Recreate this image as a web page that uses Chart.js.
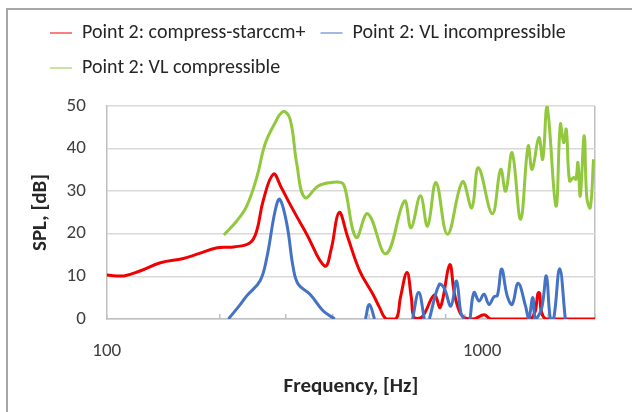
<!DOCTYPE html>
<html>
<head>
<meta charset="utf-8">
<script src="https://cdn.jsdelivr.net/npm/chart.js@4.4.0/dist/chart.umd.min.js"></script>
<style>
    html, body { margin: 0; padding: 0; background: #fff; }
    #wrap { position: relative; width: 632px; height: 412px; overflow: hidden; }
    #frame { position: absolute; left: 6px; top: 8px; width: 640px; height: 420px; border-left: 2px solid #a6a6a6; border-top: 2px solid #a6a6a6; }
    canvas { position: absolute; left: 0; top: 0; }
</style>
</head>
<body>
<div id="wrap">
    <div id="frame"></div>
    <canvas id="splChart" width="632" height="412"></canvas>
</div>
<script>
// Data
const seriesNames = ["Point 2: compress-starccm+", "Point 2: VL incompressible", "Point 2: VL compressible"];

const redFreq = [100, 111, 123, 139, 160, 174, 197, 218, 241, 251, 261, 278, 292, 308, 341, 381, 397, 416, 439, 472, 512, 533, 555, 590, 606, 631, 648, 660, 693, 746, 774, 820, 843, 869, 896, 952, 1012, 1056, 1347, 1417, 1478, 2000];
const redSpl  = [10.3, 10.1, 11.3, 13.2, 14.2, 15.2, 16.7, 16.9, 17.9, 20.7, 27.7, 34, 30.8, 26.9, 19.9, 12.4, 16.7, 25, 19.1, 11.3, 5.8, 2.7, 0, 0, 5, 10.9, 5, 0.3, 0.5, 5.6, 2.7, 12.7, 6.2, 1.9, 0.3, 0, 1, 0, 0, 6.2, 0, 0];

const blueFreq = [211, 227, 236, 256, 267, 281, 289, 302, 314, 324, 348, 377, 405, 450, 489, 501, 517, 590, 653, 678, 702, 713, 724, 769, 793, 826, 855, 878, 896, 912, 929, 952, 982, 1012, 1044, 1076, 1099, 1128, 1167, 1203, 1248, 1306, 1332, 1365, 1388, 1440, 1484, 1521, 1552, 1610, 1667];
const blueSpl  = [0, 3.4, 5.4, 8.9, 14.4, 25.4, 28.1, 22.2, 12, 8.1, 5.8, 1.9, 0, null, 0, 3.4, 0, null, 0, 6.2, 0, null, 0, 8.1, 7.2, 3, 8.9, 1.5, 0, null, 0, 6.2, 4.2, 5.8, 3.4, 5.2, 5.5, 11.7, 5.4, 3.4, 8.4, 3, 0, 5, 0, 2.3, 10.1, 0, 0, 11.8, 0];

const greenFreq = [205, 222, 236, 251, 264, 278, 295, 308, 321, 337, 366, 393, 422, 431, 462, 496, 555, 621, 647, 685, 716, 754, 809, 887, 939, 978, 1065, 1121, 1156, 1203, 1267, 1327, 1360, 1417, 1451, 1490, 1574, 1617, 1650, 1677, 1711, 1754, 1779, 1801, 1827, 1872, 1902, 1943, 1982];
const greenSpl  = [19.7, 23, 26.5, 33.2, 41, 45.3, 48.7, 46.9, 36.3, 28.5, 31.2, 32, 32, 30.8, 19.1, 24.7, 15.3, 27.7, 21.4, 28.9, 21.8, 32, 19.9, 32.2, 26.1, 35.5, 24.7, 35.1, 30, 39, 23.4, 40.6, 35.1, 42.6, 37.5, 50, 26.5, 45.7, 41.4, 44.5, 32.4, 33.2, 32.8, 36.7, 28.9, 43, 28.5, 26.1, 37.5];

const xMin = 100, xMax = 2000;
const xLabels = [100, 1000];
const yTicks = [0, 10, 20, 30, 40, 50];

const toPoints = (freq, spl) => freq.map((f, i) => ({ x: f, y: spl[i] }));

Chart.defaults.font.family = "Carlito, Lato, 'Liberation Sans', sans-serif";
Chart.defaults.color = '#404040';

// small inside tick marks on the frequency axis, like the original
const minorTicks = {
    id: 'minorTicks',
    beforeDatasetsDraw(chart) {
        const { ctx, chartArea, scales } = chart;
        ctx.save();
        ctx.strokeStyle = '#bfbfbf';
        ctx.lineWidth = 1.5;
        scales.x.ticks.forEach(t => {
            const px = scales.x.getPixelForValue(t.value);
            ctx.beginPath();
            ctx.moveTo(px, chartArea.bottom);
            ctx.lineTo(px, chartArea.bottom - 5);
            ctx.stroke();
        });
        ctx.restore();
    }
};

// a bit more room under the legend
const legendGap = {
    id: 'legendGap',
    beforeLayout(chart) {
        const lg = chart.legend;
        if (lg && !lg._gapPatched) {
            const fit = lg.fit;
            lg.fit = function () { fit.call(this); this.height += 18; };
            lg._gapPatched = true;
        }
    }
};

const ctx = document.getElementById('splChart').getContext('2d');
const splChart = new Chart(ctx, {
    type: 'line',
    data: {
        datasets: [
            { label: seriesNames[0], data: toPoints(redFreq, redSpl), borderColor: '#f00000', order: 3 },
            { label: seriesNames[1], data: toPoints(blueFreq, blueSpl), borderColor: '#4472c4', order: 2 },
            { label: seriesNames[2], data: toPoints(greenFreq, greenSpl), borderColor: '#92c83e', order: 1 }
        ]
    },
    options: {
        responsive: false,
        animation: false,
        spanGaps: false,
        elements: {
            line: { borderWidth: 3, tension: 0.4, fill: false },
            point: { radius: 0 }
        },
        layout: { padding: { left: 35, right: 37, top: 8, bottom: 22 } },
        plugins: {
            tooltip: { enabled: false },
            legend: {
                position: 'top',
                align: 'start',
                labels: {
                    usePointStyle: true,
                    pointStyle: 'line',
                    pointStyleWidth: 22,
                    padding: 15,
                    color: '#262626',
                    font: { size: 20 },
                    sort: (a, b) => a.datasetIndex - b.datasetIndex
                }
            }
        },
        scales: {
            x: {
                type: 'logarithmic',
                min: xMin,
                max: xMax,
                grid: {
                    drawTicks: false,
                    color: c => (c.tick && c.tick.value === xMax) ? '#bfbfbf' : 'rgba(0,0,0,0)',
                    lineWidth: 1.5
                },
                border: { color: '#bfbfbf', width: 1.5 },
                ticks: {
                    autoSkip: false,
                    maxRotation: 0,
                    padding: 21,
                    color: '#404040',
                    font: { size: 19 },
                    callback: v => xLabels.includes(v) ? String(v) : ''
                },
                title: {
                    display: true,
                    text: 'Frequency, [Hz]',
                    color: '#262626',
                    font: { size: 21, weight: 'bold', lineHeight: 0.3 },
                    padding: { top: 0, bottom: 0 }
                }
            },
            y: {
                min: 0,
                max: 50,
                afterBuildTicks: s => { s.ticks = yTicks.map(v => ({ value: v })); },
                grid: { drawTicks: false, color: '#d9d9d9', lineWidth: 1.5 },
                border: { color: '#bfbfbf', width: 1.5 },
                ticks: { padding: 21, color: '#404040', font: { size: 19 } },
                title: {
                    display: true,
                    text: 'SPL, [dB]',
                    color: '#262626',
                    font: { size: 21, weight: 'bold', lineHeight: 0.5 },
                    padding: { top: 0, bottom: 0 }
                }
            }
        }
    },
    plugins: [minorTicks, legendGap]
});
</script>
</body>
</html>
